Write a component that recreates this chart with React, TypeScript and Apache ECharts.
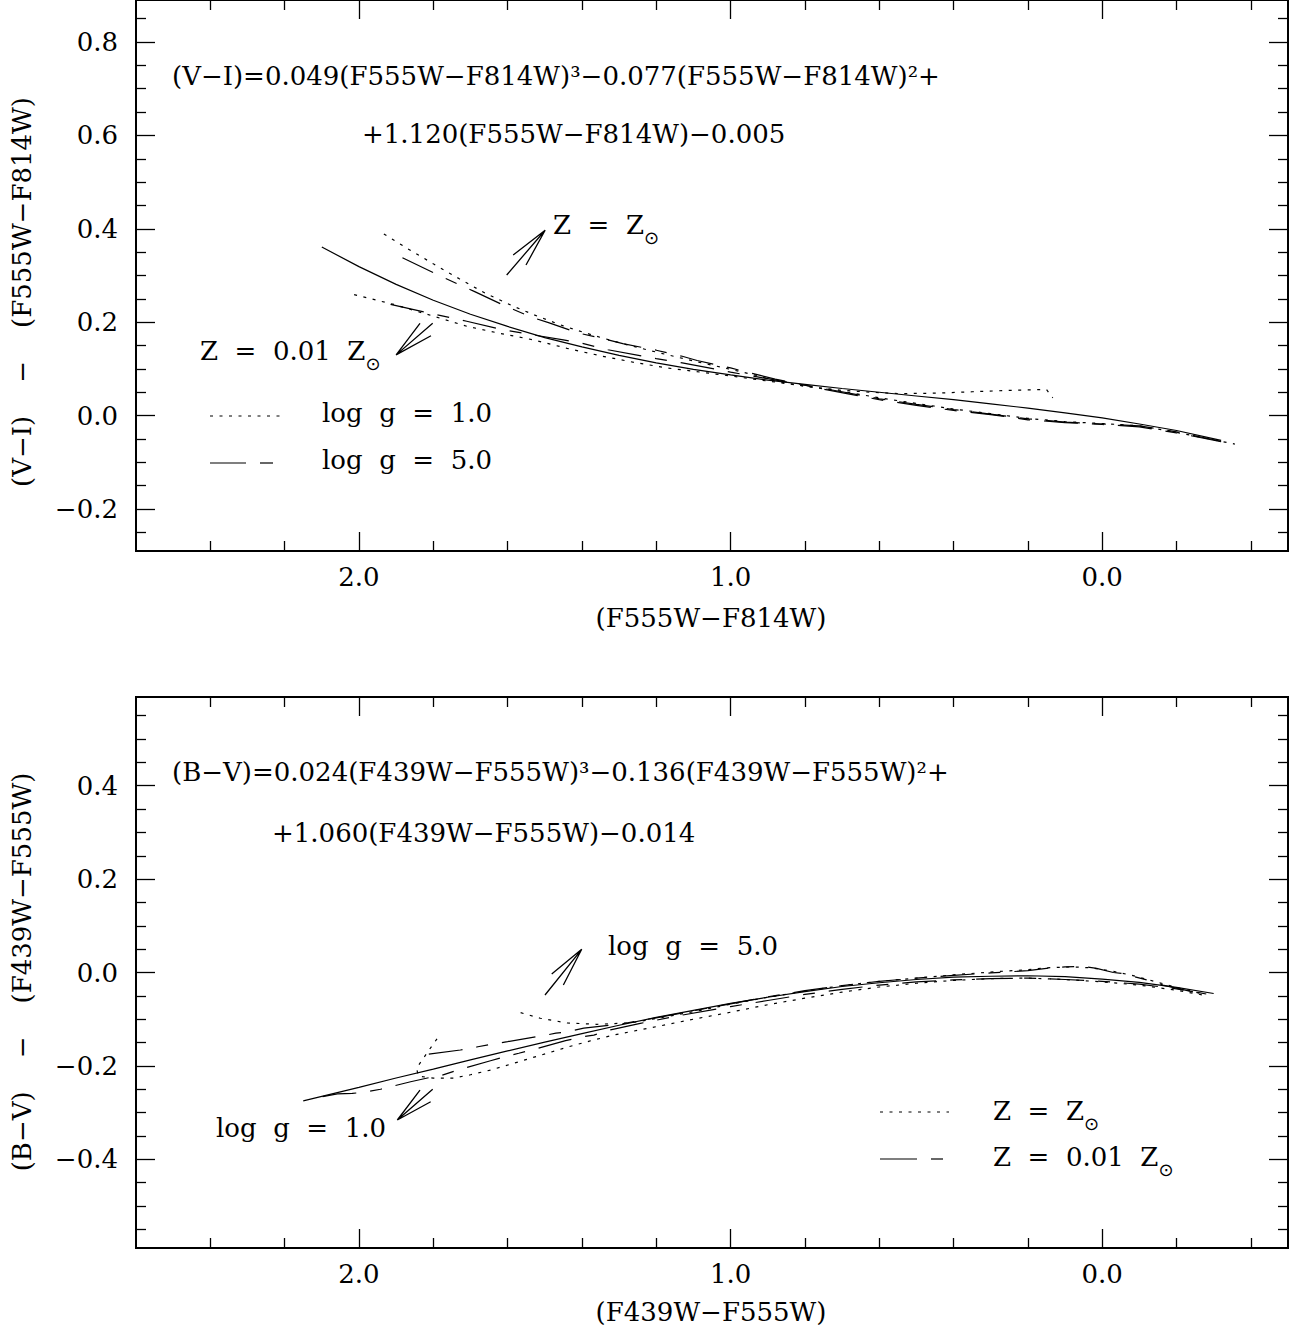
import React, { useEffect, useRef } from "react";
import * as echarts from "echarts";

// ---------- axis ranges & ticks ----------
const X_MIN = -0.5;
const X_MAX = 2.6;
const TOP_Y_MIN = -0.29;
const TOP_Y_MAX = 0.89;
const BOT_Y_MIN = -0.59;
const BOT_Y_MAX = 0.59;

const xMajorTicks = [0, 1, 2];
const xMinorTicks = [-0.4, -0.2, 0.2, 0.4, 0.6, 0.8, 1.2, 1.4, 1.6, 1.8, 2.2, 2.4];
const topYMajorTicks = [-0.2, 0, 0.2, 0.4, 0.6, 0.8];
const topYMinorTicks = [-0.25, -0.15, -0.1, -0.05, 0.05, 0.1, 0.15, 0.25, 0.3, 0.35, 0.45, 0.5, 0.55, 0.65, 0.7, 0.75, 0.85];
const botYMajorTicks = [-0.4, -0.2, 0, 0.2, 0.4];
const botYMinorTicks = [-0.55, -0.5, -0.45, -0.35, -0.3, -0.25, -0.15, -0.1, -0.05, 0.05, 0.1, 0.15, 0.25, 0.3, 0.35, 0.45, 0.5, 0.55];

// ---------- top panel: (V-I)-(F555W-F814W) vs (F555W-F814W) ----------
const topFit = [[2.1,0.361],[2.0,0.319],[1.9,0.281],[1.8,0.247],[1.7,0.217],[1.6,0.191],[1.5,0.167],[1.4,0.147],[1.3,0.129],[1.2,0.113],[1.1,0.099],[1.0,0.087],[0.9,0.076],[0.8,0.067],[0.7,0.058],[0.6,0.050],[0.5,0.042],[0.4,0.034],[0.3,0.025],[0.2,0.016],[0.1,0.006],[0.0,-0.005],[-0.1,-0.018],[-0.2,-0.032],[-0.32,-0.053]];
const topSolarG1 = [[1.933,0.389],[1.87,0.358],[1.80,0.325],[1.73,0.293],[1.66,0.262],[1.59,0.236],[1.52,0.213],[1.45,0.192],[1.37,0.172],[1.29,0.154],[1.2,0.136],[1.1,0.117],[1.0,0.099],[0.93,0.086],[0.88,0.074],[0.8,0.063],[0.7,0.054],[0.6,0.049],[0.54,0.047],[0.45,0.048],[0.35,0.051],[0.25,0.054],[0.15,0.056],[0.133,0.038]];
const topSolarG5 = [[1.883,0.338],[1.80,0.306],[1.73,0.280],[1.69,0.266],[1.61,0.236],[1.54,0.212],[1.49,0.199],[1.41,0.177],[1.34,0.164],[1.29,0.154],[1.2,0.140],[1.13,0.127],[1.09,0.118],[1.0,0.102],[0.96,0.094],[0.92,0.086],[0.88,0.078],[0.8,0.065],[0.74,0.055],[0.68,0.046],[0.6,0.034],[0.5,0.022],[0.4,0.011],[0.3,0.002],[0.2,-0.009],[0.1,-0.015],[0.0,-0.019],[-0.1,-0.024],[-0.2,-0.037],[-0.32,-0.056]];
const topPoorG5 = [[1.915,0.238],[1.82,0.221],[1.75,0.209],[1.71,0.202],[1.615,0.184],[1.54,0.174],[1.45,0.162],[1.4,0.155],[1.33,0.141],[1.2,0.122],[1.13,0.113],[1.0,0.093],[0.9,0.079],[0.8,0.065],[0.7,0.051],[0.6,0.036],[0.5,0.024],[0.4,0.013],[0.3,0.003],[0.2,-0.007],[0.1,-0.014],[0.0,-0.018],[-0.1,-0.022],[-0.2,-0.035],[-0.32,-0.055]];
const topPoorG1 = [[2.013,0.259],[1.906,0.238],[1.80,0.213],[1.709,0.191],[1.62,0.176],[1.53,0.162],[1.44,0.144],[1.35,0.128],[1.26,0.114],[1.171,0.102],[1.08,0.093],[0.992,0.084],[0.9,0.074],[0.8,0.063],[0.7,0.052],[0.6,0.038],[0.5,0.026],[0.4,0.014],[0.3,0.004],[0.2,-0.006],[0.1,-0.013],[0.0,-0.017],[-0.1,-0.022],[-0.2,-0.036],[-0.3,-0.052],[-0.357,-0.061]];
// arrows (tail, tip, barb, tip, barb) in data units
const topArrowSolar = [[1.6025,0.301],[1.499,0.397],[1.585,0.344],[1.499,0.397],[1.5505,0.3225]];
const topArrowPoor = [[1.8016,0.1976],[1.900,0.130],[1.8358,0.1976],[1.900,0.130],[1.8062,0.171]];

// ---------- bottom panel: (B-V)-(F439W-F555W) vs (F439W-F555W) ----------
const botFit = [[2.15,-0.275],[2.0,-0.246],[1.9,-0.226],[1.8,-0.207],[1.7,-0.187],[1.6,-0.168],[1.5,-0.149],[1.4,-0.131],[1.3,-0.113],[1.2,-0.096],[1.1,-0.081],[1.0,-0.066],[0.9,-0.053],[0.8,-0.041],[0.7,-0.030],[0.6,-0.022],[0.5,-0.015],[0.4,-0.010],[0.3,-0.008],[0.2,-0.007],[0.1,-0.009],[0.0,-0.014],[-0.1,-0.021],[-0.2,-0.032],[-0.3,-0.045]];
const botSolarG5 = [[1.565,-0.086],[1.512,-0.098],[1.44,-0.108],[1.36,-0.111],[1.27,-0.108],[1.21,-0.100],[1.1,-0.084],[1.0,-0.068],[0.9,-0.053],[0.8,-0.040],[0.7,-0.028],[0.6,-0.019],[0.5,-0.012],[0.4,-0.005],[0.3,0.001],[0.2,0.006],[0.15,0.010],[0.08,0.012],[0.03,0.010],[-0.02,0.004],[-0.08,-0.006],[-0.15,-0.021],[-0.21,-0.034],[-0.27,-0.046]];
const botPoorG5 = [[1.812,-0.175],[1.727,-0.166],[1.68,-0.159],[1.646,-0.154],[1.60,-0.148],[1.51,-0.136],[1.47,-0.130],[1.44,-0.127],[1.395,-0.119],[1.30,-0.111],[1.2,-0.097],[1.1,-0.082],[1.0,-0.067],[0.9,-0.052],[0.8,-0.039],[0.7,-0.028],[0.6,-0.019],[0.5,-0.012],[0.4,-0.006],[0.3,-0.001],[0.2,0.004],[0.15,0.009],[0.1,0.012],[0.05,0.013],[0.015,0.009],[-0.03,0.0],[-0.052,-0.002],[-0.15,-0.022],[-0.163,-0.027],[-0.27,-0.046]];
const botSolarG1 = [[1.79,-0.142],[1.815,-0.170],[1.845,-0.205],[1.84,-0.222],[1.80,-0.226],[1.745,-0.226],[1.70,-0.219],[1.646,-0.209],[1.59,-0.196],[1.54,-0.184],[1.49,-0.172],[1.44,-0.160],[1.38,-0.147],[1.315,-0.134],[1.225,-0.120],[1.1,-0.100],[1.0,-0.085],[0.9,-0.069],[0.8,-0.055],[0.7,-0.042],[0.6,-0.031],[0.5,-0.023],[0.4,-0.017],[0.3,-0.013],[0.2,-0.012],[0.1,-0.015],[0.0,-0.020],[-0.1,-0.027],[-0.2,-0.038],[-0.27,-0.048]];
const botPoorG1 = [[2.098,-0.266],[2.058,-0.260],[2.018,-0.259],[1.982,-0.256],[1.942,-0.250],[1.861,-0.234],[1.81,-0.225],[1.776,-0.220],[1.735,-0.209],[1.646,-0.189],[1.606,-0.180],[1.57,-0.173],[1.53,-0.165],[1.444,-0.146],[1.40,-0.138],[1.368,-0.134],[1.323,-0.123],[1.243,-0.109],[1.15,-0.094],[1.0,-0.073],[0.9,-0.060],[0.8,-0.047],[0.7,-0.036],[0.6,-0.027],[0.5,-0.020],[0.4,-0.016],[0.3,-0.013],[0.2,-0.012],[0.1,-0.015],[0.0,-0.019],[-0.1,-0.025],[-0.2,-0.035],[-0.28,-0.046]];
const botArrowG5 = [[1.4994,-0.0482],[1.4006,0.0497],[1.4813,-0.0032],[1.4006,0.0497],[1.45,-0.0268]];
const botArrowG1 = [[1.8016,-0.2502],[1.8968,-0.3159],[1.8358,-0.2517],[1.8968,-0.3159],[1.807,-0.2767]];

// ---------- texts ----------
const N = "\u00A0";
const topEq1 = "(V−I)=0.049(F555W−F814W)³−0.077(F555W−F814W)²+";
const topEq2 = "+1.120(F555W−F814W)−0.005";
const botEq1 = "(B−V)=0.024(F439W−F555W)³−0.136(F439W−F555W)²+";
const botEq2 = "+1.060(F439W−F555W)−0.014";
const topXTitle = "(F555W−F814W)";
const botXTitle = "(F439W−F555W)";
const topYTitle = `(V−I)${N}${N}${N}${N}−${N}${N}${N}${N}(F555W−F814W)`;
const botYTitle = `(B−V)${N}${N}${N}${N}−${N}${N}${N}${N}(F439W−F555W)`;
const sp = `${N}${N}`;
const lblLogG1 = `log${sp}g${sp}=${sp}1.0`;
const lblLogG5 = `log${sp}g${sp}=${sp}5.0`;
const lblZsun = `Z${sp}=${sp}Z`;
const lblZpoor = `Z${sp}=${sp}0.01${sp}Z`;
const SUN = "⊙";

const FONT = "DejaVu Serif";
const FS = 26;
const INK = "#000";

const DOT: number[] = [3, 6.5];
const DASH: number[] = [34, 14, 12, 14];

function measure(text: string, size: number, family: string) {
  const ctx = document.createElement("canvas").getContext("2d");
  if (!ctx) return text.length * size * 0.6;
  ctx.font = `${size}px "${family}"`;
  return ctx.measureText(text).width;
}

function fmt(v: number) {
  const s = Math.abs(v) < 1e-9 ? "0.0" : v.toFixed(1);
  return s.replace("-", "−");
}

function xAxes(gridIndex: number) {
  const base = {
    type: "value" as const,
    gridIndex,
    min: X_MIN,
    max: X_MAX,
    inverse: true,
    axisLine: { show: false, onZero: false },
    splitLine: { show: false },
  };
  const tick = (vals: number[], len: number) => ({
    show: true, inside: true, length: len, customValues: vals,
    lineStyle: { color: INK, width: 1.3 },
  });
  return [
    { ...base, position: "bottom", axisTick: tick(xMajorTicks, 19),
      axisLabel: { show: true, customValues: xMajorTicks, margin: 13, formatter: fmt, color: INK, fontFamily: FONT, fontSize: FS } },
    { ...base, position: "bottom", axisTick: tick(xMinorTicks, 10), axisLabel: { show: false } },
    { ...base, position: "top", axisTick: tick(xMajorTicks, 19), axisLabel: { show: false } },
    { ...base, position: "top", axisTick: tick(xMinorTicks, 10), axisLabel: { show: false } },
  ];
}

function yAxes(gridIndex: number, min: number, max: number, major: number[], minor: number[]) {
  const base = {
    type: "value" as const,
    gridIndex, min, max,
    axisLine: { show: false, onZero: false },
    splitLine: { show: false },
  };
  const tick = (vals: number[], len: number) => ({
    show: true, inside: true, length: len, customValues: vals,
    lineStyle: { color: INK, width: 1.3 },
  });
  return [
    { ...base, position: "left", axisTick: tick(major, 19),
      axisLabel: { show: true, customValues: major, margin: 18, formatter: fmt, color: INK, fontFamily: FONT, fontSize: FS } },
    { ...base, position: "left", axisTick: tick(minor, 10), axisLabel: { show: false } },
    { ...base, position: "right", axisTick: tick(major, 19), axisLabel: { show: false } },
    { ...base, position: "right", axisTick: tick(minor, 10), axisLabel: { show: false } },
  ];
}

function curve(data: number[][], axis: number, dash: number[] | "solid", width = 1.2) {
  return {
    type: "line",
    xAxisIndex: axis,
    yAxisIndex: axis,
    data,
    symbol: "none",
    showSymbol: false,
    silent: true,
    clip: true,
    lineStyle: { color: INK, width, type: dash },
  };
}

function text(t: string, x: number, y: number, align = "left", size = FS, family = FONT, rotation = 0) {
  return {
    type: "text",
    x, y, rotation,
    silent: true,
    style: {
      text: t, fill: INK, fontSize: size, fontFamily: family,
      textAlign: align, textVerticalAlign: "middle",
    },
  };
}

function withSun(t: string, x: number, y: number) {
  const w = measure(t, FS, FONT);
  return [text(t, x, y), text(SUN, x + w, y + 12, "left", 18, "DejaVu Sans")];
}

function hline(x1: number, x2: number, y: number, dash?: number[]) {
  return {
    type: "line",
    silent: true,
    shape: { x1, y1: y, x2, y2: y },
    style: { stroke: INK, lineWidth: 1.2, lineDash: dash || null },
  };
}

export default function App() {
  const ref = useRef<HTMLDivElement>(null);
  useEffect(() => {
    if (!ref.current) return;
    const chart = echarts.init(ref.current, undefined, { renderer: "svg" });
    const grid = (top: number) => ({
      left: 136, top, width: 1152, height: 551,
      show: true, borderColor: INK, borderWidth: 2, backgroundColor: "transparent",
    });
    const option = {
      animation: false,
      backgroundColor: "#fff",
      grid: [grid(0), grid(697)],
      xAxis: [...xAxes(0), ...xAxes(1)],
      yAxis: [
        ...yAxes(0, TOP_Y_MIN, TOP_Y_MAX, topYMajorTicks, topYMinorTicks),
        ...yAxes(1, BOT_Y_MIN, BOT_Y_MAX, botYMajorTicks, botYMinorTicks),
      ],
      series: [
        curve(topFit, 0, "solid"),
        curve(topSolarG1, 0, DOT),
        curve(topPoorG1, 0, DOT),
        curve(topSolarG5, 0, DASH),
        curve(topPoorG5, 0, DASH),
        curve(topArrowSolar, 0, "solid", 1.3),
        curve(topArrowPoor, 0, "solid", 1.3),
        curve(botFit, 4, "solid"),
        curve(botSolarG5, 4, DOT),
        curve(botSolarG1, 4, DOT),
        curve(botPoorG5, 4, DASH),
        curve(botPoorG1, 4, DASH),
        curve(botArrowG5, 4, "solid", 1.3),
        curve(botArrowG1, 4, "solid", 1.3),
      ],
      graphic: [
        // top panel
        text(topEq1, 172, 76),
        text(topEq2, 362, 134),
        ...withSun(lblZsun, 553, 225),
        ...withSun(lblZpoor, 200, 351),
        hline(210, 281, 416, DOT),
        text(lblLogG1, 322, 413),
        hline(210, 246, 463),
        hline(260, 273, 463),
        text(lblLogG5, 322, 460),
        text(topXTitle, 711, 618, "center"),
        text(topYTitle, 22, 292, "center", FS, FONT, Math.PI / 2),
        // bottom panel
        text(botEq1, 172, 772),
        text(botEq2, 272, 833),
        text(lblLogG5, 608, 946),
        text(lblLogG1, 216, 1128),
        hline(880, 949, 1112, DOT),
        ...withSun(lblZsun, 993, 1111),
        hline(880, 917, 1159),
        hline(931, 943, 1159),
        ...withSun(lblZpoor, 993, 1157),
        text(botXTitle, 711, 1312, "center"),
        text(botYTitle, 22, 972, "center", FS, FONT, Math.PI / 2),
      ],
    };
    chart.setOption(option as any);
    return () => chart.dispose();
  }, []);
  return (
    <div
      ref={ref}
      style={{ position: "absolute", left: 0, top: 0, width: 1301, height: 1336, background: "#fff" }}
    />
  );
}
